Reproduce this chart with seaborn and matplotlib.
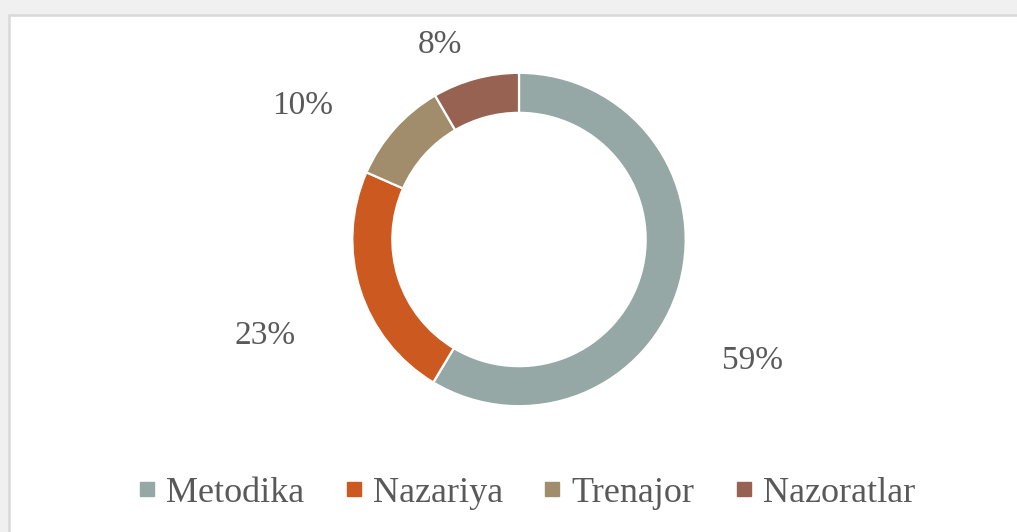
import numpy as np
import matplotlib
matplotlib.use("Agg")
import matplotlib.pyplot as plt
import seaborn as sns
from matplotlib.patches import Rectangle
from matplotlib.lines import Line2D

categories = ["Metodika", "Nazariya", "Trenajor", "Nazoratlar"]
values = [58.6, 23.0, 10.0, 8.4]
pct_labels = ["59%", "23%", "10%", "8%"]
colors = ["#95A8A5", "#CC5A20", "#A18C6B", "#976252"]

sns.set_theme(style="white")
plt.rcParams["font.family"] = ["Liberation Serif", "DejaVu Serif"]
text_color = "#595959"

W, H = 1017, 532
fig = plt.figure(figsize=(W / 100, H / 100), dpi=100)
fig.patch.set_facecolor("#F0F0F0")

# white chart panel with light border
fig.patches.append(Rectangle((9 / W, -0.05), 1.1, (H - 15) / H + 0.05,
                             transform=fig.transFigure, facecolor="white",
                             edgecolor="#D9D9D9", linewidth=1.8, zorder=-5))

cx, cy, half = 519, 239.5, 200
ax = fig.add_axes([(cx - half) / W, (H - cy - half) / H, 2 * half / W, 2 * half / H])
ax.set_zorder(2)
ax.patch.set_alpha(0)

wedges, _ = ax.pie(values, colors=colors, startangle=90, counterclock=False,
                   radius=1.0, wedgeprops=dict(width=0.24, edgecolor="white",
                                               linewidth=1.6))
ax.set_xlim(-1.2, 1.2)
ax.set_ylim(-1.2, 1.2)
ax.set_aspect("equal")
ax.axis("off")

# label placement (radial distance, angular offset in degrees)
label_dist = [1.58, 1.63, 1.53, 1.26]
label_dang = [-12, 3, 10, 7]
for w, lab, d, da in zip(wedges, pct_labels, label_dist, label_dang):
    ang = np.deg2rad((w.theta1 + w.theta2) / 2 + da)
    ax.text(d * np.cos(ang), d * np.sin(ang), lab, ha="center", va="center",
            fontsize=24, color=text_color)

handles = [Line2D([0], [0], marker="s", linestyle="none", markersize=9.5,
                  markerfacecolor=c, markeredgecolor=c) for c in colors]
leg = fig.legend(handles, categories, loc="center", bbox_to_anchor=(527 / W, 1 - 493 / H),
                 ncol=4, frameon=False, fontsize=26, handlelength=0.45,
                 handletextpad=0.3, columnspacing=1.15, labelcolor=text_color)
leg.set_zorder(3)

fig.savefig("out.png", dpi=100, facecolor=fig.get_facecolor())
